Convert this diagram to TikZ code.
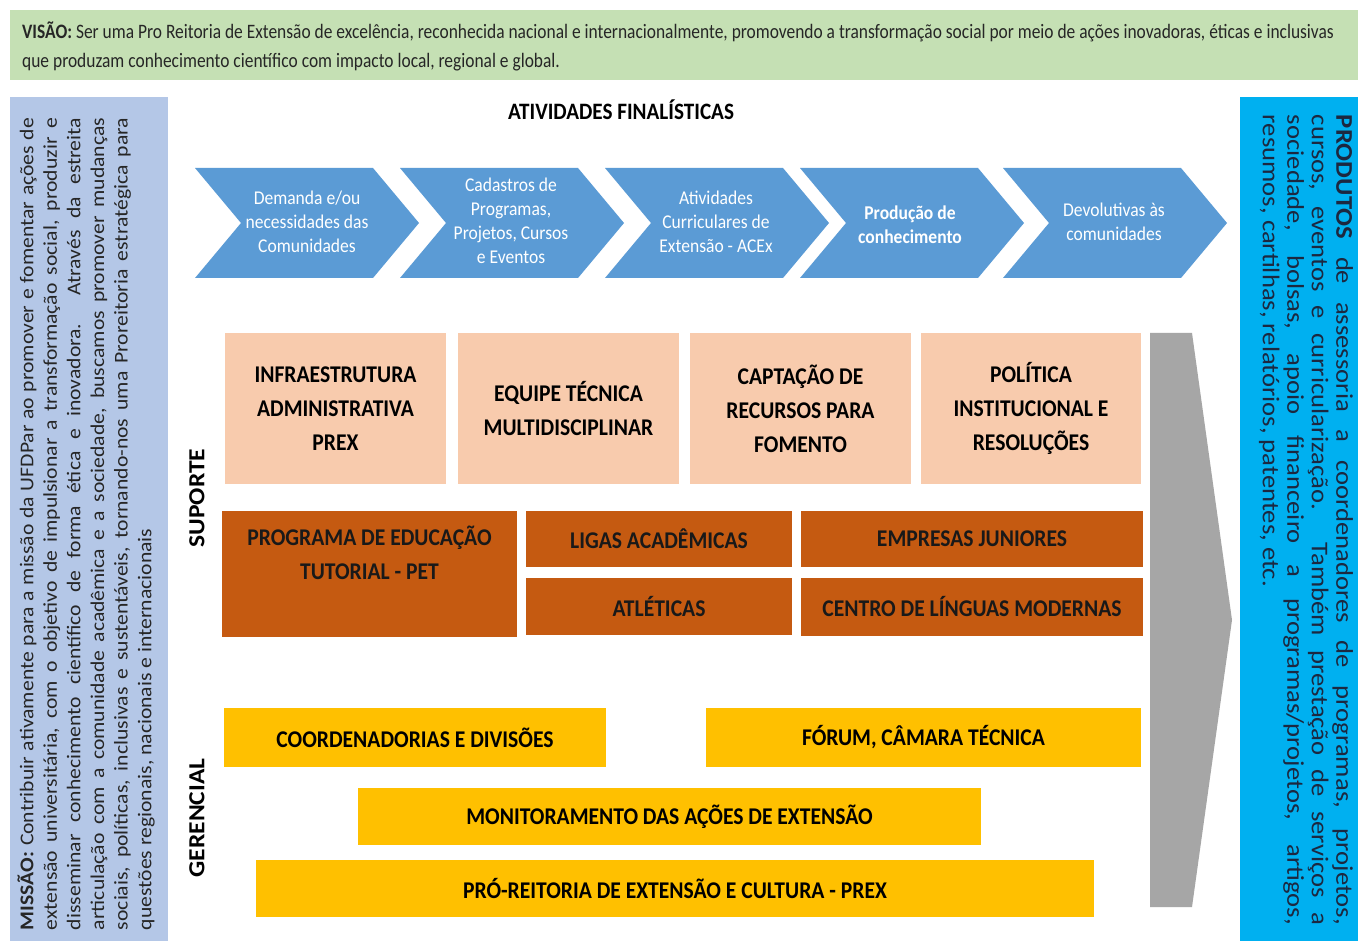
\documentclass[tikz,border=0pt]{standalone}
\usepackage{fontspec}
\setmainfont{Carlito}[FakeStretch=0.9]
\newfontfamily\rotfont{Carlito}[FakeStretch=1.11]
\newfontfamily\narrowfont{Carlito}[FakeStretch=0.85]
\definecolor{visaocol}{HTML}{C5E0B4}
\definecolor{missaocol}{HTML}{B4C7E7}
\definecolor{prodcol}{HTML}{00B0F0}
\definecolor{chevcol}{HTML}{5B9BD5}
\definecolor{peachcol}{HTML}{F8CBAD}
\definecolor{rustcol}{HTML}{C55A11}
\definecolor{goldcol}{HTML}{FFC000}
\definecolor{greycol}{HTML}{A6A6A6}
\definecolor{navytext}{HTML}{1C2840}
\definecolor{darktext}{HTML}{262626}
\begin{document}
\begin{tikzpicture}[x=1pt,y=-1pt,
  box/.style={inner sep=0pt, outer sep=0pt, align=center, font=\bfseries\fontsize{24}{34}\selectfont, text=black},
  peach/.style={box, fill=peachcol},
  rust/.style={box, fill=rustcol, text=black!90},
  gold/.style={box, fill=goldcol},
  chevtext/.style={align=center, text=white, font=\fontsize{19.5}{24}\selectfont},
  sidelabel/.style={rotate=90, font=\rotfont\bfseries\fontsize{23}{24}\selectfont, text=black}
]
\useasboundingbox (0,0) rectangle (1358,941);
\fill[white] (0,0) rectangle (1358,941);

% Vision band
\fill[visaocol] (10,10) rectangle (1358,80);
\node[anchor=west, align=left, inner sep=0pt, font=\narrowfont\fontsize{20.5}{29}\selectfont, text=darktext] (visao) at (22,46)
 {\textbf{VISÃO:} Ser uma Pro Reitoria de Extensão de excelência, reconhecida nacional e internacionalmente, promovendo a transformação social por meio de ações inovadoras, éticas e inclusivas\\
 que produzam conhecimento científico com impacto local, regional e global.};

% Mission panel
\fill[missaocol] (10,97) rectangle (168,941);
\node[rotate=90, align=left, inner sep=0pt, text=darktext, font=\rotfont\fontsize{19.5}{23.6}\selectfont] (missao) at (86,524)
 {\makebox[812pt][s]{\textbf{MISSÃO:} Contribuir ativamente para a missão da UFDPar ao promover e fomentar ações de}\\
  \makebox[812pt][s]{extensão universitária, com o objetivo de impulsionar a transformação social, produzir e}\\
  \makebox[812pt][s]{disseminar conhecimento científico de forma ética e inovadora. Através da estreita}\\
  \makebox[812pt][s]{articulação com a comunidade acadêmica e a sociedade, buscamos promover mudanças}\\
  \makebox[812pt][s]{sociais, políticas, inclusivas e sustentáveis, tornando-nos uma Proreitoria estratégica para}\\
  questões regionais, nacionais e internacionais};

% Products panel
\fill[prodcol] (1240,97) rectangle (1358,941);
\node[rotate=-90, align=left, inner sep=0pt, text=navytext, font=\rotfont\fontsize{24}{24.5}\selectfont] (produtos) at (1306,520)
 {\makebox[810pt][s]{\textbf{PRODUTOS} de assessoria a coordenadores de programas, projetos,}\\
  \makebox[810pt][s]{cursos, eventos e curricularização. Também prestação de serviços a}\\
  \makebox[810pt][s]{sociedade, bolsas, apoio financeiro a programas/projetos, artigos,}\\
  resumos, cartilhas, relatórios, patentes, etc.};

% Title
\node[font=\bfseries\fontsize{23.5}{24}\selectfont, text=black] (titulo) at (621,110) {ATIVIDADES FINALÍSTICAS};

% Chevrons
\foreach \cx/\nm in {195/c1,400/c2,605/c3,800/c4,1003/c5}{
  \fill[chevcol] (\cx,168) -- ++(178,0) -- ++(46,55) -- ++(-46,55) -- ++(-178,0) -- ++(46,-55) -- cycle;
}
\node[chevtext] (t1) at (307,222) {Demanda e/ou\\necessidades das\\Comunidades};
\node[chevtext] (t2) at (511,221) {Cadastros de\\Programas,\\Projetos, Cursos\\e Eventos};
\node[chevtext] (t3) at (716,222) {Atividades\\Curriculares de\\Extensão - ACEx};
\node[chevtext, font=\bfseries\fontsize{19.5}{24}\selectfont] (t4) at (910,225) {Produção de\\conhecimento};
\node[chevtext] (t5) at (1114,222) {Devolutivas às\\comunidades};

% Side labels
\node[sidelabel] (suporte) at (197,498) {SUPORTE};
\node[sidelabel] (gerencial) at (197,818) {GERENCIAL};

% Peach boxes
\node[peach, minimum width=221pt, minimum height=151pt] (infra) at (335.5,408.5) {INFRAESTRUTURA\\ADMINISTRATIVA\\PREX};
\node[peach, minimum width=221pt, minimum height=151pt] (equipe) at (568.5,408.5) {EQUIPE TÉCNICA\\MULTIDISCIPLINAR};
\node[peach, minimum width=221pt, minimum height=151pt] (captacao) at (800.5,408.5) {CAPTAÇÃO DE\\RECURSOS PARA\\FOMENTO};
\node[peach, minimum width=220pt, minimum height=151pt] (politica) at (1031,408.5) {POLÍTICA\\INSTITUCIONAL E\\RESOLUÇÕES};

% Rust boxes
\node[rust, minimum width=295pt, minimum height=126pt] (pet) at (369.5,574) {};
\node[box, text=black!90] (pettext) at (369.5,553) {PROGRAMA DE EDUCAÇÃO\\TUTORIAL - PET};
\node[rust, minimum width=266pt, minimum height=56pt] (ligas) at (659,539) {LIGAS ACADÊMICAS};
\node[rust, minimum width=266pt, minimum height=57pt] (atleticas) at (659,606.5) {ATLÉTICAS};
\node[rust, minimum width=342pt, minimum height=56pt] (empresas) at (972,539) {EMPRESAS JUNIORES};
\node[rust, minimum width=342pt, minimum height=58pt] (centro) at (972,607) {CENTRO DE LÍNGUAS MODERNAS};

% Gold boxes
\node[gold, minimum width=382pt, minimum height=59pt] (coord) at (415,737.5) {COORDENADORIAS E DIVISÕES};
\node[gold, minimum width=435pt, minimum height=59pt] (forum) at (923.5,737.5) {FÓRUM, CÂMARA TÉCNICA};
\node[gold, minimum width=623pt, minimum height=57pt] (monit) at (669.5,816.5) {MONITORAMENTO DAS AÇÕES DE EXTENSÃO};
\node[gold, minimum width=838pt, minimum height=57pt] (prex) at (675,888.5) {PRÓ-REITORIA DE EXTENSÃO E CULTURA - PREX};

% Grey arrow
\fill[greycol] (1150,333) -- (1192,333) -- (1232,620) -- (1192,907) -- (1150,907) -- cycle;
\end{tikzpicture}
\end{document}
